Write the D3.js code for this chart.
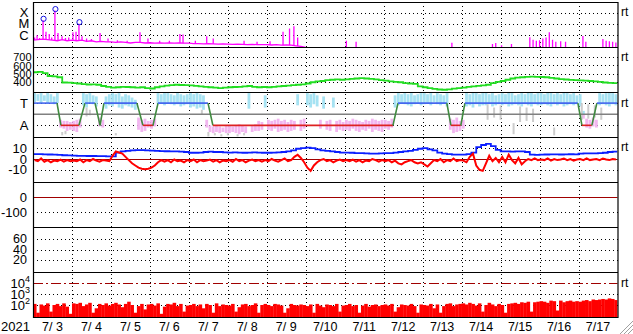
<!DOCTYPE html>
<html><head><meta charset="utf-8">
<script src="https://cdn.jsdelivr.net/npm/d3@7"></script>
<style>body{margin:0;background:#fff}svg{display:block}text{font-family:"Liberation Sans",Arial,sans-serif;fill:#000}</style>
</head><body><svg id="c" width="633" height="334"></svg>
<script>
// ---------- DATA (hours since 2021-07-03 00:00 UT) ----------
const yearLabel = "2021";
const dayLabels = ["7/ 3","7/ 4","7/ 5","7/ 6","7/ 7","7/ 8","7/ 9","7/10","7/11","7/12","7/13","7/14","7/15","7/16","7/17"];
const xrayLevels = ["X","M","C"];            // log10 flux -4,-5,-6
const speedTicks = [700,600,500,400];
const sectorLabels = ["T","A"];
const bTicks = [10,0,-10];
const dstTicks = [0,-100];
const p6Ticks = [60,40,20];
const fluxTicks = [4,3,2];

// X-ray background, log10 W/m2, every 3 h
const xrayBg = [
-6.45,-6.4,-6.35,-6.4,-6.45,-6.5,-6.4,-6.5,
-6.45,-6.5,-6.45,-6.55,-6.5,-6.6,-6.55,-6.6,
-6.6,-6.65,-6.6,-6.65,-6.7,-6.65,-6.65,-6.7,
-6.68,-6.72,-6.7,-6.72,-6.7,-6.72,-6.7,-6.72,
-6.72,-6.75,-6.75,-6.78,-6.76,-6.78,-6.8,-6.78,
-6.8,-6.82,-6.8,-6.82,-6.85,-6.82,-6.85,-6.85,
-6.85,-6.88,-6.85,-6.9,-6.88,-6.9,-6.95,-7.0,
-7.1,-7.15,-7.2,-7.2,-7.25,-7.2,-7.25,-7.3,
-7.3,-7.3,-7.3,-7.3,-7.3,-7.3,-7.3,-7.3,
-7.3,-7.3,-7.3,-7.3,-7.3,-7.3,-7.3,-7.3,
-7.3,-7.3,-7.3,-7.3,-7.3,-7.3,-7.3,-7.3,
-7.3,-7.3,-7.3,-7.3,-7.3,-7.3,-7.3,-7.3,
-7.3,-7.3,-7.3,-7.3,-7.3,-7.3,-7.3,-7.3,
-7.3,-7.3,-7.3,-7.3,-7.3,-7.3,-7.3,-7.3,
-7.3,-7.3,-7.3,-7.3,-7.3,-7.3,-7.3,-7.3,-7.3];
// flare peaks [hour, log10 peak]
const xrayPeaks = [[1,-6.2],[2.5,-6.0],[4,-6.25],[6.2,-4.67],[8,-5.7],[10,-5.9],[11.5,-6.2],[13.5,-3.8],[15.4,-5.8],[17.9,-6.1],
[20,-6.25],[22,-6.2],[24.6,-5.75],[26.5,-5.7],[28.3,-4.97],[30.2,-6.1],[33,-6.3],[36,-6.35],[41.3,-5.8],[46.2,-6.3],[52,-6.45],[58,-6.5],[65.9,-5.73],[70.8,-6.3],
[78,-6.5],[84,-6.5],[90.5,-5.9],[92.4,-5.95],[100,-6.5],[107,-6.1],[111,-6.3],[130,-6.5],[138,-6.6],[146,-6.55],[154,-5.7],[158,-5.4],[160.7,-5.2],[163,-6.2],
[193,-6.5],[199,-6.6],[258,-6.67],[283,-6.8],[285,-6.7],[288.6,-6.9],[294.7,-6.8],[306,-6.18],
[308,-6.4],[310,-6.5],[312,-6.45],[314,-6.3],[316,-6.2],[318,-5.73],[320,-6.4],[322,-6.6],[325,-6.55],
[328,-6.6],[338.7,-6.07],[340.5,-6.6],[351,-6.34],[353,-6.5],[355,-6.55],[357,-6.6],[359,-6.65]];
// flares >= M class, marked by circles
const flareMarks = [[6.2,-4.67],[13.5,-3.8],[28.3,-4.97]];

// Solar wind speed km/s, every 3 h
const speed = [
515,520,505,470,465,455,392,390,
385,380,372,368,370,365,350,340,
330,335,340,338,335,330,335,325,
320,335,345,355,360,365,362,360,
358,352,345,340,335,330,325,330,
335,338,340,345,350,340,335,338,
335,340,345,350,355,360,365,370,
380,395,405,410,420,425,430,425,
430,435,440,445,440,435,430,420,
415,405,400,395,385,380,375,345,
335,325,315,308,305,310,318,325,
330,340,345,352,358,365,385,400,
410,425,440,450,455,460,462,460,
458,455,448,440,432,428,424,420,
418,415,410,405,400,392,388,384,380];

// IMF sector: change points (1 = toward, -1 = away)
const sectorHours = [0,14.8,17.2,28.3,32.0,38.2,41.3,43.7,64.0,67.7,73.9,77.0,107.8,110.8,221.7,224.8,254.9,257.4,263.5,266.0,335.6,338.1,344.2,347.3,360];
const sectorVals  = [1,1,-1,-1,1,1,-1,1,1,-1,-1,1,1,-1,-1,1,1,-1,-1,1,1,-1,-1,1,1];
// IMF angle spread per 2 h bin (sector units, +1 = T, -1 = A)
const phiHi = [
1.9,1.8,1.9,1.7,1.9,1.8,1.6,1.9,-0.5,-0.6,-0.6,-0.7,
-0.6,-0.5,-0.4,1.9,1.8,1.9,1.7,1.6,-0.3,-0.5,1.6,1.8,
1.9,1.8,1.9,1.6,1.8,1.7,1.5,1.3,-0.3,-0.5,-0.4,-0.6,
-0.5,-0.4,1.9,1.8,1.9,1.9,1.8,1.7,1.9,1.8,1.7,1.8,
1.9,1.8,1.9,1.8,1.7,-0.5,-1.0,-1.1,-1.0,-1.1,-1.2,-1.0,
-1.0,-1.1,-1.0,-0.9,-1.0,-1.1,1.9,-1.0,-0.9,-0.6,-0.7,1.7,
-0.5,-0.6,-0.5,-0.4,-0.6,-0.5,-0.7,-0.5,-0.6,1.8,-0.5,-0.4,
1.9,1.8,1.9,1.7,-0.5,1.6,-0.6,-0.5,1.5,-0.6,-0.5,-0.7,
-0.5,-0.6,-0.4,-0.5,-0.6,-0.7,-0.5,-0.6,-0.4,-0.5,-0.6,-0.5,
-0.5,-0.6,-0.4,1.7,1.9,1.8,1.9,1.8,1.9,1.7,1.8,1.9,
1.9,1.8,1.9,1.7,1.9,1.8,1.7,1.9,-0.4,-0.5,-0.3,-0.6,
-0.5,1.9,1.8,2.0,1.9,1.8,1.9,2.0,1.8,1.9,1.7,1.8,
1.9,1.8,2.0,1.9,1.7,1.8,1.9,1.8,2.0,1.9,1.8,1.9,
1.9,1.8,2.0,1.9,1.8,1.9,1.8,2.0,1.9,1.8,1.9,1.7,
1.8,0.3,-0.4,-0.5,-0.3,-0.5,1.9,1.8,1.9,2.0,1.9,1.8];
const phiLo = [
1.1,1.2,1.0,1.2,1.0,1.1,0.9,1.0,-1.2,-1.3,-1.5,-1.4,
-1.5,-1.6,-1.2,0.8,0.6,1.0,0.9,0.7,-1.1,-1.2,0.5,0.8,
0.7,0.9,0.6,0.5,0.8,0.7,0.6,0.4,-1.4,-1.6,-1.5,-1.2,
-1.3,-1.1,0.9,1.0,0.8,1.0,0.9,0.8,0.9,0.7,0.8,0.9,
0.6,0.7,0.5,0.6,0.4,-1.2,-1.6,-1.7,-1.6,-1.7,-1.6,-1.7,
-1.7,-1.6,-1.7,-1.8,-1.6,-1.7,0.5,-1.6,-1.5,-1.5,-1.4,0.6,
-1.4,-1.5,-1.3,-1.6,-1.5,-1.4,-1.6,-1.5,-1.4,0.8,-1.5,-1.3,
0.8,0.6,0.9,0.7,-1.3,0.5,-1.4,-1.5,0.6,-1.6,-1.4,-1.5,
-1.4,-1.5,-1.3,-1.5,-1.6,-1.4,-1.5,-1.3,-1.6,-1.4,-1.5,-1.6,
-1.3,-1.4,-1.2,0.6,0.8,1.0,0.9,0.8,0.7,0.9,1.0,0.8,
0.9,1.0,0.8,1.1,0.9,0.8,1.0,0.7,-1.4,-1.7,-1.6,-1.5,
-1.3,0.7,0.8,0.6,0.9,0.7,0.8,0.8,0.9,0.7,0.8,0.9,
0.8,0.9,0.7,0.8,0.9,0.8,0.7,0.9,0.8,0.7,0.9,0.8,
0.8,0.9,0.8,0.7,0.9,0.8,0.9,0.7,0.8,0.9,0.8,0.9,
0.7,-0.4,-1.2,-1.3,-1.1,-1.2,0.8,0.9,0.8,0.7,0.9,0.8];
// second-source angle readings [hour, lo, hi]
const phiGray = [[18,-1.9,-1.6],[20,-1.8,-1.5],[33,-0.2,0.6],[35,-0.1,0.4],[51,-1.9,-1.7],[104,0.0,0.4],
[108,-2.0,-1.6],[112,-1.9,-1.7],[116,-2.0,-1.8],[120,-1.9,-1.7],[126,-2.0,-1.8],[130,-1.9,-1.7],
[280,-0.5,0.9],[284,-0.3,0.6],[288,-0.5,0.8],[296,-1.8,-0.8],[300,-0.7,0.7],[304,-0.6,0.6],[308,-0.7,0.5],
[321,-1.9,-1.2],[338,-0.5,1.0],[342,-0.4,0.9],[346,-0.3,0.8],[350,-0.5,0.6]];

// IMF Bt (every 3 h) and Bz (every 2 h), nT
const bt = [
4.5,4.6,4.3,4.2,4.0,3.8,3.5,3.4,
3.2,3.0,3.0,2.8,2.8,2.7,2.6,2.5,
2.5,6.0,7.0,7.5,8.0,8.3,8.2,8.0,
7.8,7.5,7.4,7.2,7.0,7.0,6.8,6.5,
5.8,5.8,6.0,6.5,6.8,6.5,6.5,6.2,
6.0,6.2,6.0,5.8,6.0,6.2,6.0,5.8,
5.8,6.0,6.2,6.5,7.0,8.0,9.5,10.0,
10.5,10.0,9.0,8.0,7.5,7.0,6.5,6.0,
6.0,5.8,5.5,5.5,5.2,5.0,5.0,5.2,
5.5,5.5,6.0,6.5,7.0,7.5,8.5,9.5,
10.0,9.0,8.0,6.0,5.0,4.5,4.0,4.0,
4.0,4.5,6.0,11,13,14,12,8.5,
7,7,6.8,7,7,6.5,4,3.8,
4,4.2,4.3,4.3,4.2,4.3,4.4,4.3,
5,5.2,5.3,5.3,5.4,5.8,6.5,6.8,6.8];
const bz = [
-1,-2,0.5,-2.5,-1,-3,-1.5,-2,-0.5,-2.5,-1,-2,
-1.5,-2,-0.5,-3,-1,-2,0,-1.5,-2.5,-1,-1.5,-2,
3,7,6,5,2,-1,-4,-6,-8,-9,-9.5,-9,
-8,-6,-3,-1,-2.5,-1,-3,-0.5,-2,-1.5,-3,-1,
-2,-0.5,-3,-1,-2,-1.5,-0.5,-2.5,-1,-3,-1.5,-2,
-1,-2.5,0,-2,-1,-3,-1.5,-0.5,-2,-1,-2.5,-1,
-2,0,-1.5,-2.5,-1,0.5,-2,-1,2,4,1,-3,
-8,-11,-6,-3,-1,0,-2,-1,-3,-1.5,-0.5,-2,
-1,-2,-0.5,-2.5,-1,-3,-1.5,-2,0,-1,-2.5,-1,
-2,-1,-3,-1.5,-4,-5,-3,-2,-1,-3,-4,-3,
-5,-7,-4,-1,-2,0,-3,-1,-2,0.5,-2,-1,
-1.5,-3,2,5,-6,-10,-11,-4,3,-2,1,-3,
2,-3,4,-1,-4,1,-5,-2,0,-1,0.5,-1,
-0.5,-1,0.5,-1.5,0,-1,-0.5,0.5,-1,0,-1.5,-0.5,
0,-1,0.5,-1,-0.5,0,-1,0.5,-0.5,-1,0,-0.5];

// >2 MeV electron flux, log10, every 2 h
const eflux = [
2.1,1.3,2.05,1.95,2.15,1.4,2.0,2.1,1.9,2.15,1.85,1.2,
2.15,2.1,2.2,1.9,2.05,2.2,1.3,1.7,2.1,2.0,2.15,1.95,
2.1,2.2,2.05,1.8,2.1,2.3,2.0,1.3,1.9,2.1,1.6,2.05,
2.1,1.95,2.15,1.2,1.85,2.1,2.05,2.2,1.9,2.1,1.4,1.95,
2.0,2.1,1.9,2.05,1.7,2.1,2.0,1.3,2.15,1.9,2.05,2.0,
1.95,2.1,1.4,1.8,2.05,2.1,1.9,2.0,2.15,1.3,2.0,2.1,
2.0,1.9,2.1,2.05,1.95,1.3,1.7,2.1,2.0,1.95,2.05,2.0,
1.9,2.05,1.3,2.1,1.95,1.8,2.05,2.0,1.9,2.1,1.4,1.95,
2.0,2.1,1.9,2.0,1.3,1.95,2.1,1.85,2.0,2.05,1.9,2.0,
2.05,1.95,2.1,1.4,1.8,2.05,2.0,1.95,2.1,1.9,1.3,2.05,
2.0,1.95,2.1,1.7,2.05,1.3,1.9,2.1,2.15,1.9,2.05,2.1,
2.15,2.05,2.2,2.1,1.95,2.15,1.4,2.0,2.2,2.05,1.9,2.1,
2.0,1.3,2.1,2.15,2.2,2.1,2.25,2.2,2.3,1.4,2.25,2.3,
2.35,2.3,2.2,2.4,2.35,1.5,2.4,2.25,2.35,2.4,2.3,2.35,
2.3,2.4,2.45,2.35,2.5,2.45,2.5,2.55,2.5,2.6,2.55,2.45];

// ---------- DRAWING ----------
const svg = d3.select("#c");
const L = 33, R = 617.5, TOP = 2, PH = 45, NP = 7;
const x = d3.scaleLinear().domain([0,360]).range([L,R]);
const pTop = i => TOP + PH*i;
const pScale = (i, dom) => d3.scaleLinear().domain(dom).range([pTop(i)+PH, pTop(i)]);
const yX = pScale(0,[-7.06,-3.03]);
const yV = pScale(1,[278,818]);
const yS = pScale(2,[-2.05,2]);
const yB = pScale(3,[-21.3,20.4]);
const yD = pScale(4,[-200,100]);
const yK = pScale(5,[-3.5,84]);
const yF = pScale(6,[0.91,5]);

const defs = svg.append("defs");
for (let i=0;i<NP;i++){
  defs.append("clipPath").attr("id","cp"+i).append("rect")
    .attr("x",L).attr("y",pTop(i)).attr("width",R-L).attr("height",PH);
}
const g = svg.append("g");
const dotted = (sel)=>sel.attr("stroke","#000").attr("stroke-width",1).attr("stroke-dasharray","1,3").attr("shape-rendering","crispEdges");
const hline = (y)=> g.append("line").attr("x1",L).attr("x2",R).attr("y1",Math.round(y)+0.5).attr("y2",Math.round(y)+0.5);

// horizontal grid lines
const grid = [
  ...[-4,-5,-6].map(v=>yX(v)),
  ...speedTicks.map(v=>yV(v)),
  yS(1), yS(-1),
  yB(10), yB(-10),
  yD(-100),
  ...p6Ticks.map(v=>yK(v)),
  yF(3), yF(2)
];
grid.forEach(y=>dotted(hline(y)));
// vertical day grid
d3.range(1,15).forEach(d=>{
  dotted(g.append("line").attr("x1",Math.round(x(d*24))+0.5).attr("x2",Math.round(x(d*24))+0.5)
    .attr("y1",TOP).attr("y2",pTop(NP)));
});

// ---- panel 1: X-ray
const p1 = g.append("g").attr("clip-path","url(#cp0)");
const bgPts = xrayBg.map((v,i)=>[i*3,v]);
p1.append("path").datum(bgPts).attr("fill","none").attr("stroke","#ff00ff").attr("stroke-width",1.3)
  .attr("d",d3.line().x(d=>x(d[0])).y(d=>yX(d[1])));
const bgAt = h => { const i=Math.min(119,Math.floor(h/3)); const t=(h-i*3)/3; return xrayBg[i]*(1-t)+xrayBg[i+1]*t; };
p1.selectAll(".fl").data(xrayPeaks).enter().append("line")
  .attr("x1",d=>x(d[0])).attr("x2",d=>x(d[0]))
  .attr("y1",d=>Math.min(yX(bgAt(d[0])),pTop(1)+1)).attr("y2",d=>yX(d[1]))
  .attr("stroke","#ff00ff").attr("stroke-width",1.3);
g.selectAll(".fm").data(flareMarks).enter().append("circle")
  .attr("cx",d=>x(d[0])+0.5).attr("cy",d=>yX(d[1])-1.5).attr("r",2.6)
  .attr("fill","none").attr("stroke","#1010e0").attr("stroke-width",1);

// ---- panel 2: speed
g.append("g").attr("clip-path","url(#cp1)").append("path").datum(speed.map((v,i)=>[i*3,v]))
  .attr("fill","none").attr("stroke","#22dd22").attr("stroke-width",1.8)
  .attr("d",d3.line().curve(d3.curveStepAfter).x(d=>x(d[0])).y(d=>yV(d[1])));

// ---- panel 3: sector
const p3 = g.append("g").attr("clip-path","url(#cp2)");
const phiBins = phiHi.map((h,i)=>({t:i*2+1, hi:h, lo:phiLo[i]}));
phiBins.forEach(b=>{
  if (b.hi>0) p3.append("rect").attr("x",x(b.t)-1.4).attr("width",2.8)
    .attr("y",yS(b.hi)).attr("height",yS(Math.max(b.lo,0))-yS(b.hi)).attr("fill","#a6e2f2");
  if (b.lo<0) p3.append("rect").attr("x",x(b.t)-1.4).attr("width",2.8)
    .attr("y",yS(Math.min(b.hi,0))).attr("height",yS(b.lo)-yS(Math.min(b.hi,0))).attr("fill","#f2b6f0");
});
p3.selectAll(".gr").data(phiGray).enter().append("rect")
  .attr("x",d=>x(d[0])-1).attr("width",2).attr("y",d=>yS(d[2])).attr("height",d=>yS(d[1])-yS(d[2]))
  .attr("fill","#cccccc");
g.append("line").attr("x1",L).attr("x2",R).attr("y1",yS(0)).attr("y2",yS(0)).attr("stroke","#808080").attr("stroke-width",1.6);
for (let i=0;i<sectorHours.length-1;i++){
  const a=sectorVals[i], b=sectorVals[i+1];
  const col = (a===1&&b===1)?"#4466ee":(a===-1&&b===-1)?"#dd2222":"#3f8a3f";
  g.append("line").attr("x1",x(sectorHours[i])).attr("x2",x(sectorHours[i+1]))
    .attr("y1",yS(a)).attr("y2",yS(b)).attr("stroke",col).attr("stroke-width",1.6);
}

// ---- panel 4: IMF
g.append("line").attr("x1",L).attr("x2",R).attr("y1",Math.round(yB(0))+0.5).attr("y2",Math.round(yB(0))+0.5)
  .attr("stroke","#a00000").attr("stroke-width",1.2);
const p4 = g.append("g").attr("clip-path","url(#cp3)");
p4.append("path").datum(bt.map((v,i)=>[i*3,v])).attr("fill","none").attr("stroke","#0a1eff").attr("stroke-width",1.8)
  .attr("d",d3.line().curve(d3.curveStepAfter).x(d=>x(d[0])).y(d=>yB(d[1])));
p4.append("path").datum(bz.map((v,i)=>[i*2+1,v])).attr("fill","none").attr("stroke","#ff0000").attr("stroke-width",2)
  .attr("d",d3.line().x(d=>x(d[0])).y(d=>yB(d[1])));

// ---- panel 5: zero line
g.append("line").attr("x1",L).attr("x2",R).attr("y1",Math.round(yD(0))+0.5).attr("y2",Math.round(yD(0))+0.5)
  .attr("stroke","#a00000").attr("stroke-width",1.2);

// ---- panel 7: electron flux
const p7 = g.append("g").attr("clip-path","url(#cp6)");
p7.selectAll("rect").data(eflux).enter().append("rect")
  .attr("x",(d,i)=>x(i*2)).attr("width",x(2)-x(0)+0.3)
  .attr("y",d=>yF(d)).attr("height",d=>pTop(7)-yF(d)).attr("fill","#ff0000");
g.append("line").attr("x1",L).attr("x2",R).attr("y1",Math.round(yF(4))+0.5).attr("y2",Math.round(yF(4))+0.5)
  .attr("stroke","#a00000").attr("stroke-width",1).attr("stroke-dasharray","10,3,2,3");

// panel frames
for (let i=0;i<=NP;i++){
  g.append("line").attr("x1",L).attr("x2",R+0.5).attr("y1",pTop(i)+0.5).attr("y2",pTop(i)+0.5)
   .attr("stroke","#000").attr("stroke-width",1.2);
}
g.append("line").attr("x1",L+0.5).attr("x2",L+0.5).attr("y1",TOP).attr("y2",pTop(NP)+1).attr("stroke","#000").attr("stroke-width",1.2);
g.append("line").attr("x1",R+0.5).attr("x2",R+0.5).attr("y1",TOP).attr("y2",pTop(NP)+1).attr("stroke","#000").attr("stroke-width",1.2);

// ---- labels
const lab = (txt,xx,yy,anchor,size)=> svg.append("text").attr("x",xx).attr("y",yy).attr("text-anchor",anchor)
  .attr("dominant-baseline","central").attr("font-size",size).text(txt);
xrayLevels.forEach((t,i)=>lab(t,24,yX(-4-i),"middle",13));
speedTicks.forEach(v=>lab(v,31.5,yV(v)+0.5,"end",11));
sectorLabels.forEach((t,i)=>lab(t,24,yS(i===0?1:-1),"middle",13));
bTicks.forEach(v=>lab(v,27,yB(v),"end",13));
dstTicks.forEach(v=>lab(v,27,yD(v),"end",13));
p6Ticks.forEach(v=>lab(v,27,yK(v),"end",12.5));
fluxTicks.forEach(v=>{
  const t = svg.append("text").attr("x",30).attr("y",yF(v)+4.5).attr("text-anchor","end").attr("font-size",13);
  t.append("tspan").text("10");
  t.append("tspan").attr("dy",-5.5).attr("font-size",9).text(v);
});
// right-side "rt" flags
[yX(-4)-1, yV(700), yS(1), yB(10)-1, yF(4)].forEach(yy=>lab("rt",621,yy,"start",12));
// bottom axis
svg.append("text").attr("x",1).attr("y",331).attr("font-size",13).text(yearLabel);
dayLabels.forEach((t,i)=>svg.append("text").attr("x",x(i*24+12)).attr("y",330.5).attr("text-anchor","middle")
  .attr("font-size",12.5).text(t));
// size grip
[5,9,13].forEach(d=>{
  svg.append("line").attr("x1",633-d).attr("y1",334).attr("x2",633).attr("y2",334-d).attr("stroke","#a0a0a0").attr("stroke-width",1);
  svg.append("line").attr("x1",633-d+1).attr("y1",334).attr("x2",633).attr("y2",334-d+1).attr("stroke","#ffffff").attr("stroke-width",1);
});
</script></body></html>
